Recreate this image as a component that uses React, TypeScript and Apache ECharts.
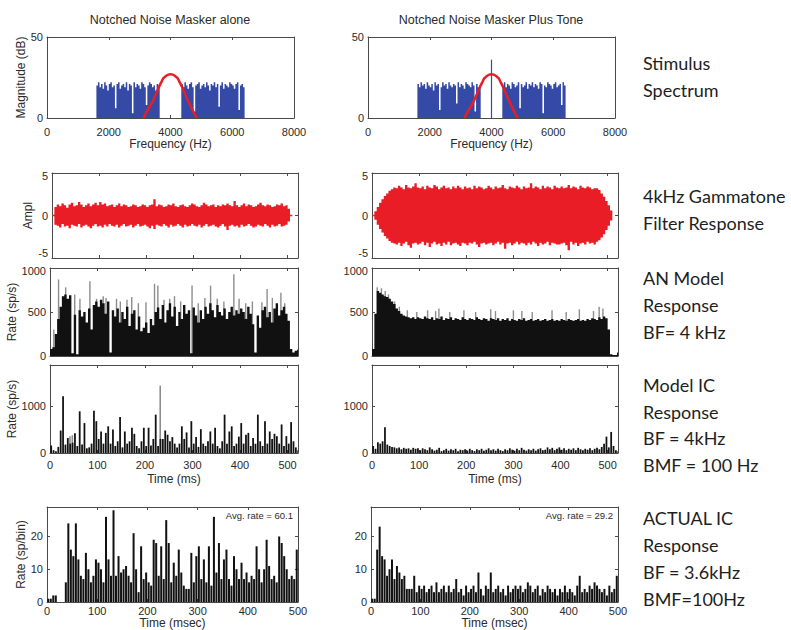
import React, { useEffect, useRef } from "react";
import * as echarts from "echarts";

// ---------------- Stimulus spectrum (dB) ----------------
const spectrumBinHz = 50;
const noiseLowStartHz = 1600;
const noiseHighStartHz = 4350;
const noiseLowAlone = [20, 22, 19, 21, 18, 22, 20, 17, 21, 22, 19, 20, 6, 21, 22, 18, 20, 21, 19, 22, 17, 21, 20, 3, 22, 19, 21, 20, 18, 22, 21, 19, 8, 20, 22, 21, 19, 20, 17, 21, 20];
const noiseHighAlone = [21, 19, 22, 20, 18, 21, 22, 19, 4, 20, 21, 22, 18, 20, 21, 19, 22, 20, 17, 21, 20, 22, 19, 21, 7, 20, 22, 18, 21, 20, 19, 22, 21, 20, 18, 21, 22, 5, 20, 21, 19];
const noiseLowTone = [21, 19, 22, 20, 21, 18, 22, 20, 19, 21, 17, 22, 20, 21, 5, 19, 22, 20, 21, 18, 22, 20, 19, 21, 20, 9, 22, 19, 21, 20, 18, 22, 21, 20, 19, 22, 20, 4, 21, 19, 20];
const noiseHighTone = [20, 22, 19, 21, 20, 18, 22, 21, 19, 20, 22, 6, 21, 19, 20, 22, 18, 21, 20, 22, 19, 21, 20, 18, 22, 21, 3, 20, 19, 22, 21, 20, 18, 21, 22, 19, 20, 21, 8, 22, 20];
const toneFreqHz = 4000;
const toneLevelDb = 36;
const filterFreqsHz = [3120, 3250, 3390, 3500, 3605, 3700, 3767, 3850, 3930, 4000, 4070, 4150, 4233, 4300, 4395, 4500, 4610, 4720, 4850];
const filterDb = [0, 4.5, 9, 13.5, 18.3, 22, 24.5, 26, 26.8, 27, 26.8, 26, 24.5, 22, 18.3, 13.5, 9, 4.5, 0];

// ---------------- 4 kHz gammatone filter response (envelope, 5 ms steps) ----------------
const gammaStepMs = 5;
const gammaAloneUpper = [
  0.1, 1.0, 1.3, 1.1, 1.4, 1.2, 0.9, 1.3, 1.5, 1.1,
  1.2, 1.6, 1.3, 1.0, 1.2, 1.4, 1.1, 1.3, 1.5, 1.2,
  1.6, 1.3, 1.4, 1.1, 1.2, 1.3, 1.0, 1.2, 1.4, 1.1,
  1.3, 1.2, 1.0, 1.1, 1.3, 1.2, 1.0, 1.1, 1.3, 1.2,
  1.0, 1.2, 1.3, 1.9, 1.1, 1.3, 1.2, 1.0, 1.1, 1.3,
  1.2, 1.4, 1.1, 1.0, 1.2, 1.3, 1.1, 1.0, 1.2, 1.4,
  1.3, 1.1, 1.0, 1.2, 1.5, 1.3, 1.1, 1.2, 1.3, 1.0,
  1.2, 1.1, 1.3, 1.2, 1.4, 1.2, 1.1, 1.7, 1.2, 1.0,
  1.2, 1.4, 1.1, 1.3, 1.2, 1.0, 1.1, 1.3, 1.5, 1.2,
  1.1, 1.3, 1.2, 1.0, 1.1, 1.3, 1.2, 1.4, 1.1, 1.2,
  0.8, 0.1,
];
const gammaAloneLower = [
  -0.1, -1.1, -1.2, -1.4, -1.0, -1.3, -1.2, -1.5, -1.1, -1.2,
  -1.3, -1.0, -1.4, -1.2, -1.1, -1.3, -1.5, -1.2, -1.0, -1.3,
  -1.2, -1.4, -1.1, -1.3, -1.0, -1.2, -1.3, -1.1, -1.4, -1.2,
  -1.0, -1.3, -1.2, -1.1, -1.4, -1.2, -1.0, -1.3, -1.2, -1.1,
  -1.3, -1.5, -1.2, -1.6, -1.1, -1.2, -1.3, -1.0, -1.2, -1.4,
  -1.1, -1.3, -1.2, -1.0, -1.2, -1.4, -1.1, -1.3, -1.2, -1.0,
  -1.2, -1.3, -1.1, -1.4, -1.2, -1.0, -1.3, -1.2, -1.1, -1.3,
  -1.4, -1.2, -1.0, -1.3, -1.7, -1.2, -1.1, -1.3, -1.2, -1.4,
  -1.1, -1.3, -1.2, -1.0, -1.2, -1.4, -1.3, -1.1, -1.2, -1.3,
  -1.0, -1.2, -1.4, -1.1, -1.3, -1.2, -1.0, -1.3, -1.2, -1.1,
  -0.7, -0.1,
];
const gammaToneUpper = [
  0.1, 0.5, 1.0, 1.5, 1.9, 2.3, 2.6, 2.9, 3.1, 3.3,
  3.2, 3.5, 3.3, 3.1, 3.6, 3.3, 3.2, 3.4, 3.8, 3.3,
  3.2, 3.4, 3.1, 3.5, 3.3, 3.2, 3.6, 3.4, 3.1, 3.3,
  3.5, 3.2, 3.3, 3.1, 3.4, 3.2, 3.5, 3.3, 3.1, 3.4,
  3.2, 3.3, 3.1, 3.5, 3.2, 3.4, 3.3, 3.1, 3.2, 3.5,
  3.3, 3.1, 3.4, 3.2, 3.3, 3.6, 3.2, 3.1, 3.4, 3.3,
  3.2, 3.5, 3.3, 3.1, 3.4, 3.2, 3.3, 3.8, 3.2, 3.4,
  3.3, 3.1, 3.5, 3.2, 3.4, 3.3, 3.1, 3.5, 3.3, 3.2,
  3.4, 3.2, 3.3, 3.6, 3.2, 3.4, 3.3, 3.1, 3.5, 3.3,
  3.2, 3.4, 3.3, 3.1, 3.2, 3.2, 3.0, 2.6, 2.2, 1.7,
  1.2, 0.6,
];
const gammaToneLower = [
  -0.1, -0.5, -1.1, -1.6, -2.0, -2.4, -2.7, -3.0, -3.2, -3.3,
  -3.4, -3.2, -3.6, -3.3, -3.1, -3.5, -3.8, -3.3, -3.2, -3.4,
  -3.3, -3.1, -3.5, -3.2, -3.7, -3.3, -3.1, -3.4, -3.3, -3.6,
  -3.2, -3.4, -3.1, -3.5, -3.3, -3.2, -3.4, -3.6, -3.2, -3.3,
  -3.5, -3.2, -3.3, -3.1, -3.4, -3.7, -3.3, -3.2, -3.4, -3.3,
  -3.2, -3.5, -3.3, -3.1, -3.4, -3.2, -3.9, -3.3, -3.2, -3.5,
  -3.3, -3.1, -3.4, -3.2, -3.3, -3.5, -3.2, -3.4, -3.1, -3.3,
  -3.6, -3.2, -3.4, -3.3, -3.1, -3.5, -3.2, -3.3, -3.4, -3.4,
  -3.3, -3.2, -3.5, -4.1, -3.1, -3.4, -3.2, -3.6, -3.3, -3.2,
  -3.4, -3.1, -3.3, -3.2, -3.4, -3.1, -2.9, -2.6, -2.2, -1.7,
  -1.2, -0.6,
];

// ---------------- AN model response (sp/s, 5 ms bins) ----------------
const binMs = 5;
const anAlone = [
  80, 100, 250, 420, 560, 680, 700, 650, 690, 30,
  470, 20, 520, 450, 500, 380, 540, 300, 580, 620,
  560, 640, 600, 480, 620, 40, 520, 450, 540, 380,
  500, 420, 560, 340, 480, 520, 300, 450, 280, 320,
  380, 260, 420, 350, 500, 550, 420, 580, 380, 520,
  600, 450, 560, 340, 500, 420, 580, 480, 520, 30,
  550, 460, 380, 520, 420, 560, 480, 600, 520, 440,
  580, 500, 460, 540, 420, 500, 560, 460, 520, 480,
  540, 500, 420, 560, 480, 360, 40, 460, 320, 520,
  560, 440, 500, 380, 540, 600, 460, 520, 560, 480,
  400, 80, 40, 60, 70,
];
const anAlonePeaksMs = [8, 18, 33, 52, 63, 84, 98, 112, 118, 140, 148, 162, 172, 186, 202, 220, 227, 240, 252, 262, 275, 299, 312, 326, 338, 352, 366, 387, 398, 412, 426, 446, 457, 468, 486, 494];
const anAlonePeaks = [300, 870, 780, 700, 650, 850, 650, 680, 660, 650, 620, 640, 670, 600, 610, 820, 800, 640, 650, 680, 620, 800, 600, 660, 800, 650, 620, 930, 650, 600, 620, 610, 760, 660, 720, 600];
const anTone = [
  80, 480, 740, 720, 700, 680, 670, 650, 620, 590,
  540, 510, 480, 460, 450, 440, 430, 440, 420, 440,
  430, 420, 450, 430, 420, 440, 410, 430, 420, 450,
  410, 430, 420, 440, 410, 430, 420, 410, 440, 420,
  410, 430, 420, 410, 440, 420, 410, 430, 420, 400,
  430, 420, 410, 430, 400, 420, 410, 430, 400, 420,
  410, 400, 420, 410, 430, 400, 410, 420, 400, 410,
  420, 400, 410, 420, 400, 410, 420, 400, 410, 400,
  420, 410, 400, 420, 410, 400, 410, 420, 400, 410,
  400, 420, 410, 430, 420, 410, 440, 420, 450, 430,
  300, 20, 10, 10, 40,
];
const anTonePeaksMs = [11, 20, 28, 35, 48, 58, 75, 95, 118, 135, 142, 165, 195, 220, 252, 262, 300, 318, 340, 382, 412, 440, 470, 482, 490];
const anTonePeaks = [780, 770, 740, 700, 620, 560, 520, 500, 520, 510, 540, 500, 520, 500, 530, 510, 520, 510, 500, 520, 500, 530, 510, 560, 540];

// ---------------- Model IC response (sp/s, 5 ms bins) ----------------
const icModelAlone = [
  160, 60, 40, 130, 480, 1210, 180, 320, 200, 220,
  420, 150, 890, 180, 640, 100, 120, 200, 900, 680,
  300, 460, 200, 430, 570, 200, 500, 150, 250, 770,
  120, 460, 200, 250, 540, 410, 150, 100, 250, 540,
  150, 540, 160, 300, 820, 150, 300, 300, 480, 390,
  250, 340, 200, 120, 200, 570, 300, 440, 120, 680,
  200, 340, 130, 510, 200, 150, 250, 460, 200, 540,
  150, 100, 250, 820, 200, 460, 570, 150, 200, 350,
  640, 200, 390, 430, 150, 320, 200, 820, 250, 150,
  680, 200, 460, 300, 410, 360, 200, 610, 150, 360,
  200, 660, 250, 120, 60,
];
const icModelAlonePeaksMs = [42, 47, 232];
const icModelAlonePeaks = [360, 380, 1440];
const icModelTone = [
  150, 90, 230, 200, 250, 550, 180, 150, 130, 120,
  100, 120, 80, 110, 90, 100, 70, 110, 90, 100,
  60, 100, 80, 60, 120, 80, 50, 70, 110, 40,
  60, 90, 50, 80, 60, 90, 40, 70, 60, 80,
  50, 90, 60, 40, 80, 60, 90, 50, 70, 100,
  60, 80, 50, 90, 60, 40, 80, 60, 100, 70,
  50, 90, 60, 110, 70, 50, 80, 60, 90, 50,
  80, 100, 60, 70, 120, 80, 110, 60, 90, 120,
  70, 100, 60, 90, 70, 100, 60, 110, 80, 60,
  90, 70, 100, 60, 90, 110, 80, 130, 200, 350,
  120, 450, 150, 60, 40,
];

// ---------------- Actual IC response (sp/bin, 5 ms bins) ----------------
const icActualAlone = [
  1, 1, 2, 2, 0, 0, 0, 6, 24, 16,
  14, 24, 13, 8, 7, 15, 10, 6, 8, 13,
  12, 10, 6, 26, 13, 8, 28, 8, 14, 9,
  10, 11, 8, 6, 21, 10, 3, 17, 7, 9,
  6, 5, 19, 18, 8, 17, 7, 25, 18, 6,
  12, 8, 16, 9, 5, 4, 4, 15, 6, 14,
  17, 7, 13, 6, 17, 5, 26, 9, 18, 7,
  13, 16, 7, 5, 14, 10, 7, 12, 7, 9,
  6, 8, 7, 17, 10, 6, 10, 19, 11, 7,
  8, 6, 20, 18, 14, 10, 7, 8, 7, 16,
];
const icActualTone = [
  1, 1, 16, 23, 14, 13, 8, 10, 13, 7,
  11, 9, 7, 8, 4, 4, 4, 8, 3, 5,
  4, 5, 3, 4, 5, 3, 6, 3, 4, 5,
  3, 5, 3, 4, 7, 3, 4, 2, 5, 3,
  4, 5, 3, 9, 4, 2, 5, 4, 9, 3,
  4, 5, 3, 4, 2, 5, 3, 4, 5, 4,
  5, 3, 4, 6, 5, 3, 4, 5, 2, 4,
  3, 5, 4, 3, 4, 2, 4, 3, 5, 3,
  4, 3, 2, 5, 8, 3, 4, 3, 5, 4,
  6, 5, 4, 3, 4, 2, 5, 3, 4, 8,
];
const avgRateAlone = "Avg. rate = 60.1";
const avgRateTone = "Avg. rate = 29.2";

// ---------------- Texts ----------------
const columnTitles = ["Notched Noise Masker alone", "Notched Noise Masker Plus Tone"];
const sideLabels = [
  "Stimulus", "Spectrum",
  "4kHz Gammatone", "Filter Response",
  "AN Model", "Response", "BF= 4 kHz",
  "Model IC", "Response", "BF = 4kHz", "BMF = 100 Hz",
  "ACTUAL IC", "Response", "BF = 3.6kHz", "BMF=100Hz",
];

// ---------------- Layout / style ----------------
const sideLabelY = [63, 90, 196, 223, 278, 305, 332, 385, 412, 438, 465, 518, 545, 572, 599];
const FONT = "'Liberation Sans', Arial, Helvetica, sans-serif";
const LABEL_FONT = "Lato, 'Open Sans', sans-serif";
const axisColor = "#4a4a4a";
const textColor = "#2a2a2a";
const BLUE = "#3549a6";
const RED = "#e81d25";
const BLACK = "#111111";
const GRAY = "#8d8d8d";

type Panel = {
  grid: { left: number; top: number; width: number; height: number };
  x: { min: number; max: number; interval: number; labels: boolean; name?: string; nameGap?: number; margin?: number };
  y: { min: number; max: number; interval: number; name?: string; nameGap?: number; shift?: Record<string, number> };
};

const TMAX = 522;
const panels: Panel[] = [
  { grid: { left: 47, top: 37, width: 247, height: 81 }, x: { min: 0, max: 8000, interval: 2000, labels: true, name: "Frequency (Hz)", nameGap: 20, margin: 8 }, y: { min: 0, max: 50, interval: 50, name: "Magnitude (dB)", nameGap: 18 } },
  { grid: { left: 368, top: 37, width: 247, height: 81 }, x: { min: 0, max: 8000, interval: 2000, labels: true, name: "Frequency (Hz)", nameGap: 20, margin: 8 }, y: { min: 0, max: 50, interval: 50 } },
  { grid: { left: 52, top: 173, width: 246, height: 85 }, x: { min: 0, max: TMAX, interval: 100, labels: false }, y: { min: -5, max: 5, interval: 5, name: "Ampl", nameGap: 16, shift: { "5": 3, "-5": -5 } } },
  { grid: { left: 372, top: 173, width: 246, height: 85 }, x: { min: 0, max: TMAX, interval: 100, labels: false }, y: { min: -5, max: 5, interval: 5, shift: { "5": 3, "-5": -5 } } },
  { grid: { left: 50, top: 268, width: 248, height: 88 }, x: { min: 0, max: TMAX, interval: 100, labels: false }, y: { min: 0, max: 1000, interval: 500, name: "Rate (sp/s)", nameGap: 31, shift: { "1000": 3 } } },
  { grid: { left: 372, top: 268, width: 246, height: 88 }, x: { min: 0, max: TMAX, interval: 100, labels: false }, y: { min: 0, max: 1000, interval: 500, shift: { "1000": 3 } } },
  { grid: { left: 50, top: 365, width: 248, height: 88 }, x: { min: 0, max: TMAX, interval: 100, labels: true, name: "Time (ms)", nameGap: 20, margin: 6 }, y: { min: 0, max: 1880, interval: 1000, name: "Rate (sp/s)", nameGap: 30 } },
  { grid: { left: 372, top: 365, width: 246, height: 88 }, x: { min: 0, max: TMAX, interval: 100, labels: true, name: "Time (ms)", nameGap: 20, margin: 6 }, y: { min: 0, max: 1880, interval: 1000 } },
  { grid: { left: 47, top: 507, width: 251, height: 95 }, x: { min: 0, max: 500, interval: 100, labels: true, name: "Time (msec)", nameGap: 15, margin: 3 }, y: { min: 0, max: 29, interval: 10, name: "Rate (sp/bin)", nameGap: 19 } },
  { grid: { left: 371, top: 507, width: 247, height: 95 }, x: { min: 0, max: 500, interval: 100, labels: true, name: "Time (msec)", nameGap: 15, margin: 3 }, y: { min: 0, max: 29, interval: 10 } },
];

const isMultiple = (v: number, step: number) => Math.abs(v / step - Math.round(v / step)) < 1e-6;

function buildAxes() {
  const xAxis: any[] = [];
  const yAxis: any[] = [];
  const line = { show: true, onZero: false, lineStyle: { color: axisColor, width: 1 } };
  const tick = { show: true, inside: true, length: 3, lineStyle: { color: axisColor } };
  const labelStyle = { fontFamily: FONT, fontSize: 11, color: textColor };
  panels.forEach((p, g) => {
    xAxis.push({
      type: "value", gridIndex: g, position: "bottom", min: p.x.min, max: p.x.max, interval: p.x.interval,
      axisLine: line, axisTick: tick, splitLine: { show: false },
      axisLabel: { show: p.x.labels, margin: p.x.margin ?? 6, formatter: (v: number) => (isMultiple(v, p.x.interval) ? String(v) : ""), ...labelStyle },
      name: p.x.name ?? "", nameLocation: "middle", nameGap: p.x.nameGap ?? 20,
      nameTextStyle: { fontFamily: FONT, fontSize: 12, color: textColor },
    });
    xAxis.push({
      type: "value", gridIndex: g, position: "top", min: p.x.min, max: p.x.max, interval: p.x.interval,
      axisLine: line, axisTick: tick, splitLine: { show: false }, axisLabel: { show: false },
    });
    const shift = p.y.shift ?? {};
    yAxis.push({
      type: "value", gridIndex: g, position: "left", min: p.y.min, max: p.y.max, interval: p.y.interval,
      axisLine: line, axisTick: tick, splitLine: { show: false },
      axisLabel: {
        show: true, margin: 4, ...labelStyle,
        formatter: (v: number) => {
          if (!isMultiple(v, p.y.interval)) return "";
          const s = shift[String(v)];
          if (s === undefined) return String(v);
          return s > 0 ? `{dn|${v}}` : `{up|${v}}`;
        },
        rich: {
          dn: { ...labelStyle, padding: [2 * Math.abs(shift["5"] ?? shift["1000"] ?? 0), 0, 0, 0] },
          up: { ...labelStyle, padding: [0, 0, 2 * Math.abs(shift["-5"] ?? 0), 0] },
        },
      },
      name: p.y.name ?? "", nameLocation: "middle", nameGap: p.y.nameGap ?? 20, nameRotate: 90,
      nameTextStyle: { fontFamily: FONT, fontSize: 12, color: textColor },
    });
    yAxis.push({
      type: "value", gridIndex: g, position: "right", min: p.y.min, max: p.y.max, interval: p.y.interval,
      axisLine: line, axisTick: tick, splitLine: { show: false }, axisLabel: { show: false },
    });
  });
  return { xAxis, yAxis };
}

// bins as [start, end, value]
const bins = (vals: number[], start: number, step: number) => vals.map((v, i) => [start + i * step, start + (i + 1) * step, v]);
// envelope bins as [start, end, low, high]
const envBins = (lo: number[], hi: number[], step: number) => lo.map((v, i) => [i * step, (i + 1) * step, v, hi[i]]);
const paired = (xs: number[], ys: number[]) => xs.map((x, i) => [x, ys[i]]);

// Filled step outline (one polygon per contiguous run of bins) through the axes' scales
function stepFill(g: number, data: number[][], color: string, z: number) {
  return {
    type: "custom", xAxisIndex: 2 * g, yAxisIndex: 2 * g, data, z, silent: true, clip: true,
    encode: { x: [0, 1], y: 2 },
    renderItem: (params: any, api: any) => {
      if (params.dataIndexInside !== 0) return null;
      const n = params.dataInsideLength;
      const children: any[] = [];
      let pts: number[][] = [];
      let prevEnd = NaN;
      const flush = () => {
        if (pts.length) {
          pts.push(api.coord([prevEnd, 0]));
          children.push({ type: "polygon", shape: { points: pts }, style: { fill: color } });
        }
        pts = [];
      };
      for (let i = 0; i < n; i++) {
        const x0 = api.value(0, i), x1 = api.value(1, i), v = api.value(2, i);
        if (!(Math.abs(x0 - prevEnd) < 1e-9)) {
          flush();
          pts.push(api.coord([x0, 0]));
        }
        pts.push(api.coord([x0, v]));
        pts.push(api.coord([x1, v]));
        prevEnd = x1;
      }
      flush();
      return { type: "group", children };
    },
  };
}
// Envelope band between lower and upper step outlines
function envelope(g: number, lo: number[], hi: number[]) {
  return {
    type: "custom", xAxisIndex: 2 * g, yAxisIndex: 2 * g, data: envBins(lo, hi, gammaStepMs), z: 3, silent: true, clip: true,
    encode: { x: [0, 1], y: [2, 3] },
    renderItem: (params: any, api: any) => {
      if (params.dataIndexInside !== 0) return null;
      const n = params.dataInsideLength;
      const upper: number[][] = [];
      const lower: number[][] = [];
      for (let i = 0; i < n; i++) {
        const x0 = api.value(0, i), x1 = api.value(1, i);
        upper.push(api.coord([x0, api.value(3, i)]), api.coord([x1, api.value(3, i)]));
        lower.push(api.coord([x0, api.value(2, i)]), api.coord([x1, api.value(2, i)]));
      }
      return { type: "polygon", shape: { points: [...upper, ...lower.reverse()] }, style: { fill: RED } };
    },
  };
}
// separate narrow bars (gaps between them)
function histogram(g: number, data: number[][], color: string, z: number, widthFrac: number) {
  return {
    type: "custom", xAxisIndex: 2 * g, yAxisIndex: 2 * g, data, z, silent: true, clip: true,
    encode: { x: [0, 1], y: 2 },
    renderItem: (_p: any, api: any) => {
      const a = api.coord([api.value(0), api.value(2)]);
      const b = api.coord([api.value(1), 0]);
      const full = b[0] - a[0];
      const w = full * widthFrac;
      return {
        type: "rect",
        shape: { x: a[0] + (full - w) / 2, y: a[1], width: w, height: b[1] - a[1] },
        style: { fill: color },
      };
    },
  };
}
// thin spikes of fixed pixel width
function spikes(g: number, data: number[][], color: string, z: number, widthPx: number) {
  return {
    type: "custom", xAxisIndex: 2 * g, yAxisIndex: 2 * g, data, z, silent: true, clip: true,
    encode: { x: 0, y: 1 },
    renderItem: (_p: any, api: any) => {
      const a = api.coord([api.value(0), api.value(1)]);
      const b = api.coord([api.value(0), 0]);
      return {
        type: "rect",
        shape: { x: a[0] - widthPx / 2, y: a[1], width: widthPx, height: b[1] - a[1] },
        style: { fill: color },
      };
    },
  };
}
function filterLine(g: number) {
  return {
    type: "line", xAxisIndex: 2 * g, yAxisIndex: 2 * g, data: paired(filterFreqsHz, filterDb),
    symbol: "none", smooth: 0.3, lineStyle: { color: RED, width: 2.5 }, z: 6, silent: true,
  };
}

function buildOption() {
  const { xAxis, yAxis } = buildAxes();
  const series: any[] = [
    stepFill(0, [...bins(noiseLowAlone, noiseLowStartHz, spectrumBinHz), ...bins(noiseHighAlone, noiseHighStartHz, spectrumBinHz)], BLUE, 2),
    filterLine(0),
    stepFill(1, [...bins(noiseLowTone, noiseLowStartHz, spectrumBinHz), ...bins(noiseHighTone, noiseHighStartHz, spectrumBinHz)], BLUE, 2),
    spikes(1, [[toneFreqHz, toneLevelDb]], BLUE, 3, 1.2),
    filterLine(1),
    envelope(2, gammaAloneLower, gammaAloneUpper),
    envelope(3, gammaToneLower, gammaToneUpper),
    spikes(4, paired(anAlonePeaksMs, anAlonePeaks), GRAY, 1, 1.4),
    stepFill(4, bins(anAlone, 0, binMs), BLACK, 2),
    spikes(5, paired(anTonePeaksMs, anTonePeaks), GRAY, 1, 1.4),
    stepFill(5, bins(anTone, 0, binMs), BLACK, 2),
    spikes(6, paired(icModelAlonePeaksMs, icModelAlonePeaks), GRAY, 1, 1.6),
    histogram(6, bins(icModelAlone, 0, binMs), BLACK, 2, 0.75),
    histogram(7, bins(icModelTone, 0, binMs), BLACK, 2, 0.75),
    histogram(8, bins(icActualAlone, 0, binMs), BLACK, 2, 0.8),
    histogram(9, bins(icActualTone, 0, binMs), BLACK, 2, 0.8),
  ];

  const graphic: any[] = [];
  const titleX = [170, 491];
  columnTitles.forEach((t, i) =>
    graphic.push({ type: "text", x: titleX[i], y: 20, silent: true,
      style: { text: t, fontFamily: FONT, fontSize: 12.5, fill: textColor, align: "center", verticalAlign: "middle" } }));
  sideLabels.forEach((t, i) =>
    graphic.push({ type: "text", x: 643, y: sideLabelY[i], silent: true,
      style: { text: t, fontFamily: LABEL_FONT, fontSize: 18, fill: "#1e1e1e", align: "left", verticalAlign: "middle" } }));
  graphic.push({ type: "text", x: 293, y: 515, silent: true,
    style: { text: avgRateAlone, fontFamily: FONT, fontSize: 9.5, fill: textColor, align: "right", verticalAlign: "middle" } });
  graphic.push({ type: "text", x: 613, y: 515, silent: true,
    style: { text: avgRateTone, fontFamily: FONT, fontSize: 9.5, fill: textColor, align: "right", verticalAlign: "middle" } });

  return {
    animation: false,
    backgroundColor: "#ffffff",
    grid: panels.map((p) => ({ ...p.grid, containLabel: false })),
    xAxis,
    yAxis,
    series,
    graphic,
  };
}

export default function App() {
  const ref = useRef<HTMLDivElement>(null);
  useEffect(() => {
    if (!ref.current) return;
    const chart = echarts.init(ref.current, null, { renderer: "svg", width: 791, height: 630 });
    chart.setOption(buildOption() as any);
    return () => chart.dispose();
  }, []);
  return <div ref={ref} style={{ position: "fixed", left: 0, top: 0, width: 791, height: 630, background: "#fff" }} />;
}
